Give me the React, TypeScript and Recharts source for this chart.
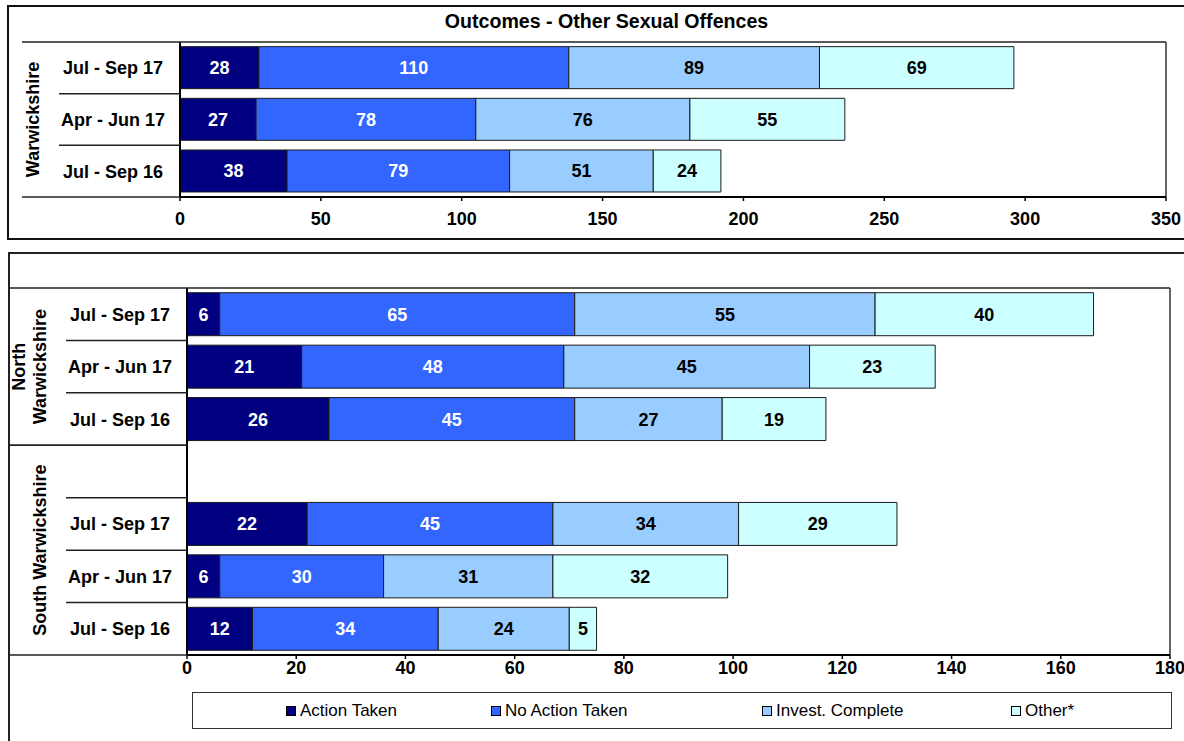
import React from 'react';
import { BarChart, Bar, XAxis, YAxis, LabelList, ReferenceLine } from 'recharts';

const FONT = '"Liberation Sans", Arial, sans-serif';

const periods = ['Jul - Sep 17', 'Apr - Jun 17', 'Jul - Sep 16'];

const seriesNames = ['Action Taken', 'No Action Taken', 'Invest. Complete', 'Other*'];
const seriesKeys = ['action', 'noAction', 'invest', 'other'];
const COLORS = ['#000080', '#3366FF', '#99CCFF', '#CCFFFF'];
const LABEL_COLORS = ['#FFFFFF', '#FFFFFF', '#000000', '#000000'];

// Warwickshire (force)
const warAction = [28, 27, 38];
const warNoAction = [110, 78, 79];
const warInvest = [89, 76, 51];
const warOther = [69, 55, 24];

// North Warwickshire
const northAction = [6, 21, 26];
const northNoAction = [65, 48, 45];
const northInvest = [55, 45, 27];
const northOther = [40, 23, 19];

// South Warwickshire
const southAction = [22, 6, 12];
const southNoAction = [45, 30, 34];
const southInvest = [34, 31, 24];
const southOther = [29, 32, 5];

const topTicks = [0, 50, 100, 150, 200, 250, 300, 350];
const bottomTicks = [0, 20, 40, 60, 80, 100, 120, 140, 160, 180];

type Row = {
    id: string;
    period: string;
    group: string;
    groupStart: boolean;
    groupEnd: boolean;
    groupSize: number;
    action: number | null;
    noAction: number | null;
    invest: number | null;
    other: number | null;
};

const buildGroup = (name: string, prefix: string, a: number[], n: number[], inv: number[], o: number[], extraBlank = 0): Row[] => {
    const size = periods.length + extraBlank;
    const rows: Row[] = [];
    for (let b = 0; b < extraBlank; b++) {
        rows.push({ id: `${prefix}-blank${b}`, period: '', group: name, groupStart: b === 0, groupEnd: false, groupSize: size,
            action: null, noAction: null, invest: null, other: null });
    }
    periods.forEach((p, i) => {
        rows.push({
            id: `${prefix}-${i}`, period: p, group: name,
            groupStart: extraBlank === 0 && i === 0, groupEnd: i === periods.length - 1, groupSize: size,
            action: a[i], noAction: n[i], invest: inv[i], other: o[i],
        });
    });
    return rows;
};

const topRows = buildGroup('Warwickshire', 'war', warAction, warNoAction, warInvest, warOther);
const bottomRows = [
    ...buildGroup('North Warwickshire', 'north', northAction, northNoAction, northInvest, northOther),
    ...buildGroup('South Warwickshire', 'south', southAction, southNoAction, southInvest, southOther, 1),
];

type TickOpts = {
    rows: Row[];
    labelX: number;
    rowLeft: number;
    groupLeft: number;
    groupLabelX: number;
    plotLeft: number;
    plotRight: number;
    bandH: number;
};

const makeRowTick = (o: TickOpts) => (props: any) => {
    const { y, payload } = props;
    const row = o.rows.find((r) => r.id === payload.value);
    if (!row) return <g />;
    const i = o.rows.indexOf(row);
    const top = y - o.bandH / 2;
    const bottom = y + o.bandH / 2;
    let groupLabel = null;
    if (row.groupStart) {
        const cy = top + (row.groupSize * o.bandH) / 2;
        const wrap = row.group.length * 0.58 * 18 > row.groupSize * o.bandH;
        const lines = wrap ? row.group.split(' ') : [row.group];
        groupLabel = (
            <text transform={`rotate(-90, ${o.groupLabelX}, ${cy})`} x={o.groupLabelX} y={cy}
                textAnchor="middle" fontFamily={FONT} fontWeight="bold" fontSize={18} fill="#000">
                {lines.map((l, k) => (
                    <tspan key={k} x={o.groupLabelX} y={cy - (lines.length - 1 - k) * 21} dy="0.36em">{l}</tspan>
                ))}
            </text>
        );
    }
    return (
        <g>
            {i === 0 && <line x1={o.groupLeft} x2={o.plotRight} y1={top} y2={top} stroke="#222" strokeWidth={1.5} />}
            <line x1={row.groupEnd || i === o.rows.length - 1 ? o.groupLeft : o.rowLeft} x2={o.plotLeft} y1={bottom} y2={bottom}
                stroke="#222" strokeWidth={1.5} />
            {row.groupStart && i > 0 && <line x1={o.groupLeft} x2={o.plotLeft} y1={top} y2={top} stroke="#222" strokeWidth={1.5} />}
            {groupLabel}
            <text x={o.labelX} y={y} dy="0.36em" textAnchor="middle" fontFamily={FONT} fontWeight="bold" fontSize={18} fill="#000">
                {row.period}
            </text>
        </g>
    );
};

const makeBarLabel = (color: string) => (props: any) => {
    const { x, y, width, height, value } = props;
    if (value === null || value === undefined) return null;
    return (
        <text x={x + width / 2} y={y + height / 2} dy="0.36em" textAnchor="middle" fontFamily={FONT}
            fontWeight="bold" fontSize={18} fill={color}>
            {value}
        </text>
    );
};

type PanelProps = {
    rows: Row[];
    ticks: number[];
    width: number;
    height: number;
    margin: { top: number; right: number; bottom: number; left: number };
    yWidth: number;
    labelX: number;
    rowLeft: number;
    groupLeft: number;
    groupLabelX: number;
    tickMargin: number;
};

const Panel: React.FC<PanelProps> = (p) => {
    const plotLeft = p.margin.left + p.yWidth;
    const plotRight = p.width - p.margin.right;
    const xH = 30;
    const plotH = p.height - p.margin.top - p.margin.bottom - xH;
    const bandH = plotH / p.rows.length;
    const max = p.ticks[p.ticks.length - 1];
    const tick = makeRowTick({
        rows: p.rows, labelX: p.labelX, rowLeft: p.rowLeft, groupLeft: p.groupLeft,
        groupLabelX: p.groupLabelX, plotLeft, plotRight, bandH,
    });
    return (
        <BarChart width={p.width} height={p.height} data={p.rows} layout="vertical" margin={p.margin}
            barCategoryGap="9%" style={{ overflow: 'visible' }}>
            <XAxis type="number" domain={[0, max]} ticks={p.ticks} interval={0} height={xH}
                axisLine={{ stroke: '#000', strokeWidth: 2 }} tickLine={{ stroke: '#000', strokeWidth: 1.5 }}
                tickSize={4} tickMargin={p.tickMargin}
                tick={{ fontSize: 18, fontWeight: 'bold', fill: '#000', fontFamily: FONT }} />
            <YAxis type="category" dataKey="id" width={p.yWidth} interval={0} tickLine={false}
                axisLine={{ stroke: '#000', strokeWidth: 2 }} tick={tick} />
            <ReferenceLine x={max} stroke="#333" strokeWidth={1.5} />
            {seriesKeys.map((k, i) => (
                <Bar key={k} dataKey={k} name={seriesNames[i]} stackId="a" fill={COLORS[i]}
                    stroke="#1a1a1a" strokeWidth={1} isAnimationActive={false}>
                    <LabelList dataKey={k} content={makeBarLabel(LABEL_COLORS[i])} />
                </Bar>
            ))}
        </BarChart>
    );
};

const legendLefts = [286, 491, 762, 1011];

const App: React.FC = () => (
    <div style={{ position: 'absolute', left: 0, top: 0, width: 1184, height: 741, overflow: 'hidden', background: '#fff', fontFamily: FONT }}>
        <div style={{ position: 'absolute', left: 7, top: 5, width: 1220, height: 231, border: '2px solid #111' }} />
        <div style={{ position: 'absolute', left: 8, top: 252, width: 1220, height: 600, border: '2px solid #222' }} />
        <div style={{ position: 'absolute', left: 0, top: 10, width: 1213, textAlign: 'center', fontWeight: 'bold', fontSize: 19.6, lineHeight: '23px' }}>
            Outcomes - Other Sexual Offences
        </div>
        <div style={{ position: 'absolute', left: 0, top: 0 }}>
            <Panel rows={topRows} ticks={topTicks} width={1184} height={240}
                margin={{ top: 42, right: 18, bottom: 13, left: 8 }} yWidth={172}
                labelX={113} rowLeft={59} groupLeft={22} groupLabelX={33} tickMargin={11} />
        </div>
        <div style={{ position: 'absolute', left: 0, top: 252 }}>
            <Panel rows={bottomRows} ticks={bottomTicks} width={1184} height={489}
                margin={{ top: 36, right: 14, bottom: 56, left: 8 }} yWidth={179}
                labelX={120} rowLeft={66} groupLeft={8} groupLabelX={40} tickMargin={2} />
        </div>
        <div style={{ position: 'absolute', left: 192, top: 692, width: 978, height: 35, border: '1.5px solid #333' }}>
            {seriesNames.map((n, i) => (
                <div key={n} style={{ position: 'absolute', left: legendLefts[i] - 193, top: 0, height: 35, display: 'flex', alignItems: 'center', fontSize: 17 }}>
                    <span style={{ display: 'inline-block', width: 8, height: 8, background: COLORS[i], border: '1px solid #000', marginRight: 4 }} />
                    <span>{n}</span>
                </div>
            ))}
        </div>
    </div>
);

export default App;
